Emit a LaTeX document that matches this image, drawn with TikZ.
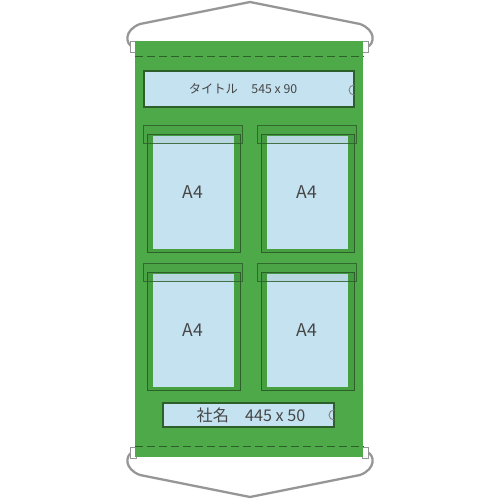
\documentclass[tikz,border=0pt]{standalone}
\usepackage{fontspec}
\setmainfont{Noto Sans CJK JP}
\newfontfamily\jp{Noto Sans CJK JP}
\definecolor{banner}{RGB}{78,170,72}
\definecolor{pocket}{RGB}{70,160,64}
\definecolor{edge}{RGB}{45,95,42}
\definecolor{paper}{RGB}{197,226,240}
\definecolor{wire}{RGB}{150,150,150}
\definecolor{txt}{RGB}{70,70,70}
\tikzset{
  wireline/.style={draw=wire, line width=1.3pt, line cap=round},
  poleend/.style={draw=wire, fill=white, line width=0.5pt},
  seam/.style={draw=edge, line width=0.5pt, dash pattern=on 0.16cm off 0.08cm},
  pocketbox/.style={draw=edge, fill=pocket, line width=0.45pt},
  paperbox/.style={fill=paper},
  tabbox/.style={draw=edge, draw opacity=0.85, fill=edge, fill opacity=0.08, line width=0.45pt},
  platebox/.style={draw=edge, fill=paper, line width=0.8pt},
  ring/.style={draw=txt!70, line width=0.5pt},
  lab/.style={text=txt, inner sep=0pt, font=\jp},
}
\begin{document}
\begin{tikzpicture}[x=0.02cm, y=-0.02cm]
\useasboundingbox (0,0) rectangle (500,500);
% wires
\draw[wireline] (133,47) .. controls (125,44) and (124,30) .. (140,24) -- (250,2) -- (360,24) .. controls (376,30) and (375,44) .. (367,47);
\draw[wireline] (133,452) .. controls (125,455) and (124,469) .. (140,475) -- (250,497) -- (360,475) .. controls (376,469) and (375,455) .. (367,452);
% pole ends
\draw[poleend] (130,41) rectangle (136,52);
\draw[poleend] (362,41) rectangle (368,52);
\draw[poleend] (130,447) rectangle (136,458);
\draw[poleend] (362,447) rectangle (368,458);
% banner
\fill[banner] (135,41) rectangle (363,457);
\coordinate (sl1) at (135,56); \coordinate (sr1) at (363,56);
\coordinate (sl2) at (135,446); \coordinate (sr2) at (363,446);
\draw[seam] (sl1) -- (sr1);
\draw[seam] (sl2) -- (sr2);
% title plate
\draw[platebox] (144,71) rectangle (354,107);
\begin{scope}
\clip (144,71) rectangle (354,107);
\draw[ring] (354,90) circle (5);
\end{scope}
\node[lab, font=\jp\fontsize{7}{8}\selectfont] (title) at (243,89) {タイトル\hspace{1.1em}545 x 90};
% company plate
\draw[platebox] (163,403) rectangle (334,427);
\begin{scope}
\clip (163,403) rectangle (334,427);
\draw[ring] (334,415) circle (5);
\end{scope}
\node[lab, font=\jp\fontsize{9.2}{10}\selectfont] (company) at (251,415) {社名\hspace{1em}445 x 50};
% A4 pockets
\foreach \dx/\dy/\n in {0/0/a, 114/0/b, 0/138/c, 114/138/d}{
  \begin{scope}[shift={(\dx,\dy)}]
    \draw[pocketbox] (147,134) rectangle (240,252);
    \fill[paperbox] (153,136) rectangle (234,249);
    \draw[tabbox] (143,125) rectangle (242,143);
    \node[lab, font=\jp\fontsize{10}{11}\selectfont] (\n) at (193,192) {A4};
  \end{scope}
}
\end{tikzpicture}
\end{document}
